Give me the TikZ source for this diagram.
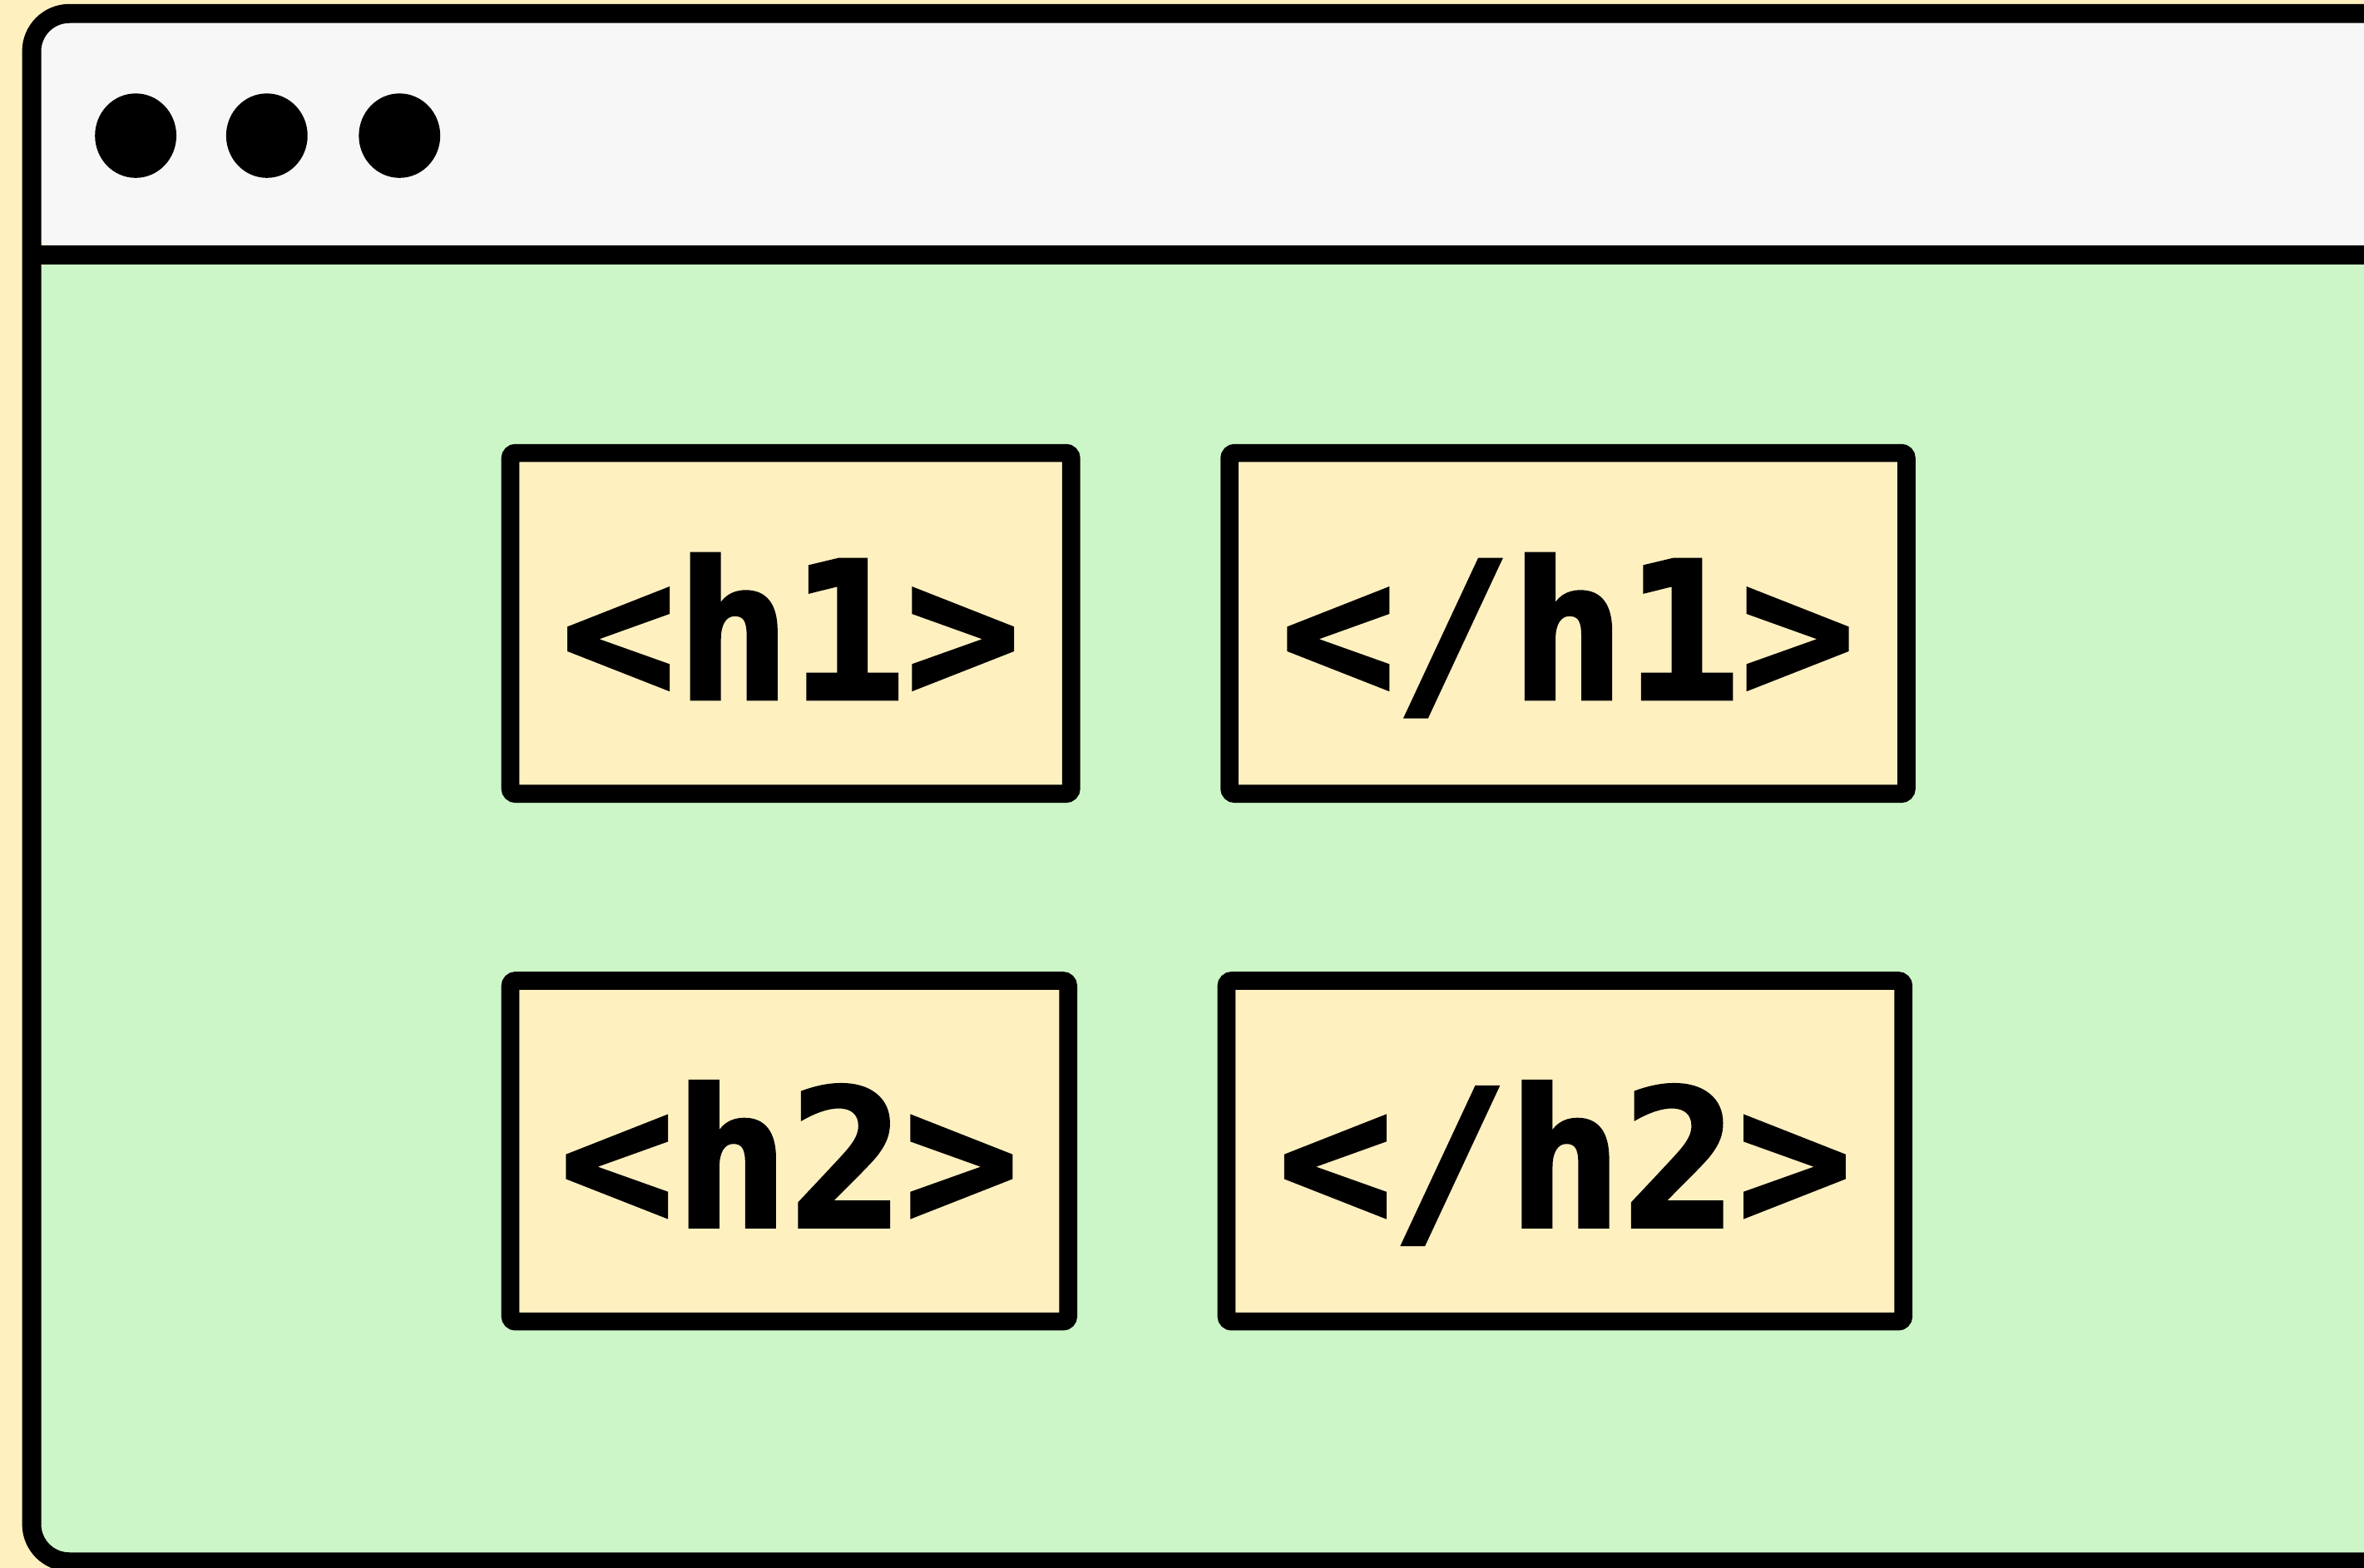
\documentclass[tikz,border=0pt]{standalone}
\usepackage{fontspec}
\newfontfamily\tagfont[FakeBold=2]{DejaVu Sans Mono Bold}
\definecolor{cream}{HTML}{FFF0C0}
\definecolor{bargray}{HTML}{F7F7F7}
\definecolor{paneg}{HTML}{CCF5C8}
\begin{document}
\begin{tikzpicture}[tagbox/.style={draw=black,line width=3.4pt,fill=cream,rounded corners=1pt,
    minimum height=2.26cm,inner sep=0pt,text height=1cm,text depth=0pt,
    font=\tagfont\fontsize{36}{40}\selectfont}]
  \useasboundingbox (0,0) rectangle (15.68,10.40);
  \fill [cream] (0,0) rectangle (15.68,10.40);
  \begin{scope}
  \clip (0,0) rectangle (15.68,10.40);
  \fill [paneg,rounded corners=0.25cm] (0.21,0.04) rectangle (16.2,8.71);
  \fill [bargray,rounded corners=0.25cm] (0.21,8.71) -- (0.21,10.31) -- (16.2,10.31) -- (16.2,8.71) -- cycle;
  \draw [line width=3.6pt] (0.21,8.71) -- (16.2,8.71);
  \draw [line width=3.6pt,rounded corners=0.25cm] (16.2,0.04) rectangle (0.21,10.31);
  \end{scope}
  \fill (0.90,9.50) ellipse (0.27 and 0.28);
  \fill (1.77,9.50) ellipse (0.27 and 0.28);
  \fill (2.65,9.50) ellipse (0.27 and 0.28);
  \node [tagbox,minimum width=3.72cm] (h1open) at (5.245,6.265) {<h1>};
  \node [tagbox,minimum width=4.49cm] (h1close) at (10.40,6.265) {</h1>};
  \node [tagbox,minimum width=3.70cm] (h2open) at (5.235,2.765) {<h2>};
  \node [tagbox,minimum width=4.49cm] (h2close) at (10.38,2.765) {</h2>};
\end{tikzpicture}
\end{document}
